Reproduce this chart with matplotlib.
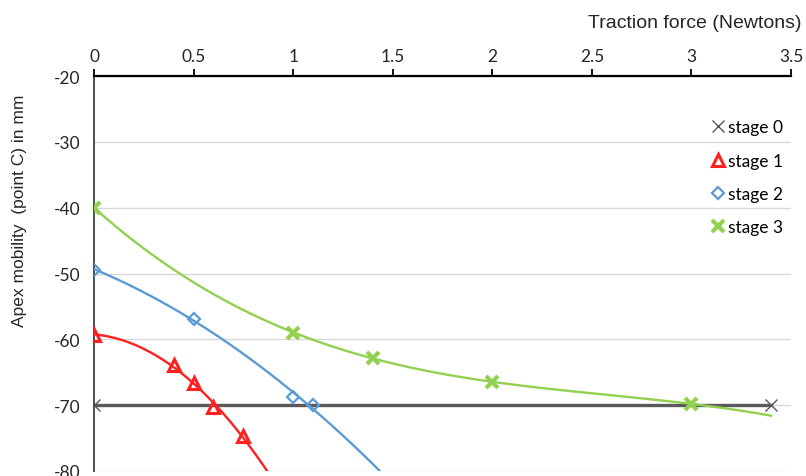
import numpy as np
import matplotlib
matplotlib.use("Agg")
import matplotlib.pyplot as plt

plt.rcParams["axes.unicode_minus"] = False

# datos
x0 = [0, 3.4]
y0 = [-70, -70]

x1 = [0, 0.4, 0.5, 0.6, 0.75]
y1 = [-59.3, -63.9, -66.6, -70.3, -74.7]

x2 = [0, 0.5, 1.0, 1.1]
y2 = [-49.4, -56.9, -68.8, -70.0]

x3 = [0, 1.0, 1.4, 2.0, 3.0]
y3 = [-40.0, -59.0, -62.8, -66.5, -69.8]

labels = ["stage 0", "stage 1", "stage 2", "stage 3"]
xticks = [0, 0.5, 1, 1.5, 2, 2.5, 3, 3.5]
yticks = [-20, -30, -40, -50, -60, -70, -80]

c0, c1, c2, c3 = "#595959", "#FF2020", "#5B9BD5", "#92D050"

fig = plt.figure(figsize=(8.06, 4.77), dpi=100)
ax = fig.add_axes([94/806, 5/477, 697/806, 395/477])

# lineas de tendencia (polinomios ajustados a los puntos)
def tendencia(x, y, grado, xmax):
    p = np.polyfit(x, y, grado)
    xs = np.linspace(0, xmax, 200)
    return xs, np.polyval(p, xs)

xs, ys = tendencia(x1, y1, 2, 1.0)
ax.plot(xs, ys, color=c1, lw=1.7, zorder=3)
xs, ys = tendencia(x2, y2, 2, 1.6)
ax.plot(xs, ys, color=c2, lw=1.7, zorder=3)
xs, ys = tendencia(x3, y3, 3, 3.4)
ax.plot(xs, ys, color=c3, lw=1.7, zorder=3)

ax.plot(x0, y0, color=c0, lw=2.4, marker="x", ms=8, mew=1.0, zorder=2,
        label=labels[0])
ax.plot(x1, y1, ls="none", marker="^", ms=9, mfc="none", mec=c1, mew=2.2,
        zorder=4, label=labels[1])
ax.plot(x2, y2, ls="none", marker="D", ms=6, mfc="none", mec=c2, mew=1.6,
        zorder=4, label=labels[2])
ax.plot(x3, y3, ls="none", marker="x", ms=8, mec=c3, mew=3,
        zorder=4, label=labels[3])

ax.set_xlim(0, 3.5)
ax.set_ylim(-80, -20)
ax.set_xticks(xticks)
ax.set_xticklabels([f"{t:g}" for t in xticks])
ax.set_yticks(yticks)
ax.xaxis.tick_top()
ax.tick_params(axis="x", direction="out", length=5, width=1.3, pad=4,
               labelsize=12.5, colors="#000000")
ax.tick_params(axis="y", length=0, pad=10, labelsize=12.5)
for lab in ax.get_xticklabels() + ax.get_yticklabels():
    lab.set_family("Lato")
    lab.set_color("#262626")

ax.grid(axis="y", color="#D9D9D9", lw=1)
ax.set_axisbelow(True)
for s in ["right", "bottom"]:
    ax.spines[s].set_visible(False)
ax.spines["top"].set_linewidth(1.6)
ax.spines["left"].set_linewidth(1.3)
ax.spines["left"].set_color("#404040")

fig.text(801/806, 1 - 23/477, "Traction force (Newtons)", ha="right",
         va="center", fontsize=14, family="Liberation Sans", color="#262626")
fig.text(20/806, 1 - 211/477, "Apex mobility  (point C) in mm", rotation=90,
         ha="center", va="center", fontsize=12.5, family="Liberation Sans",
         color="#262626")

leg = ax.legend(loc="upper left", bbox_to_anchor=(0.863, 0.93), frameon=False,
                handlelength=0.8, handletextpad=0.2, labelspacing=1.0,
                prop={"family": "Lato", "size": 12.5})
for h in leg.legend_handles:
    h.set_linestyle("none")

fig.savefig("out.png", dpi=100)
